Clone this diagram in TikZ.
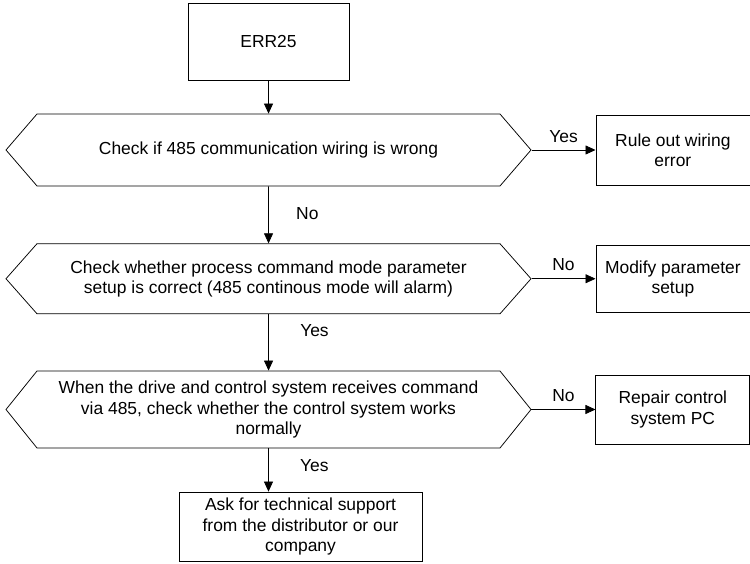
\documentclass[tikz,border=0pt]{standalone}
\usepackage{fontspec}
\setmainfont{Liberation Sans}
\usetikzlibrary{positioning,arrows.meta,shapes.symbols}

\begin{document}
\begin{tikzpicture}[x=1bp,y=1bp,font=\fontsize{17.5}{20.5}\selectfont,node distance=57bp and 64bp,
    line width=0.75bp,>={Triangle[length=10bp,width=9bp]}]
  \tikzstyle{box}=[draw,minimum width=154bp,align=center,inner sep=2pt]
  \tikzstyle{hex}=[draw,signal,signal to=west and east,
    minimum width=525bp,align=center,inner sep=2pt]
  \useasboundingbox (0,0) rectangle (750,564);
  \node[draw,minimum width=161bp,minimum height=77bp] (err) at (268.5,522.5) {ERR25};
  \node[hex,minimum height=72bp,signal pointer angle=98.5] (c1) at (268.5,414) {Check if 485 communication wiring is wrong};
  \node[hex,minimum height=70bp,signal pointer angle=97,below=of c1] (c2) {Check whether process command mode parameter\\setup is correct (485 continous mode will alarm)};
  \node[hex,minimum height=77bp,signal pointer angle=102.3] (c3) at (268.5,154.5) {When the drive and control system receives command\\via 485, check whether the control system works\\normally};
  \node[box,minimum height=70bp,right=of c1] (r1) {Rule out wiring\\error};
  \node[box,minimum height=67bp,right=of c2] (r2) {Modify parameter\\setup};
  \node[box,minimum height=69bp,right=of c3] (r3) {Repair control\\system PC};
  \node[draw,minimum width=243bp,minimum height=69bp,align=center,inner sep=2pt] (ask) at (300.5,37.5) {Ask for technical support\\from the distributor or our\\company};
  \draw[->] (err) -- (c1);
  \draw[->] (c1.east) -- (c1.east -| r1.west) node[midway,above=4bp] {Yes};
  \draw[->] (c1) -- (c2) node[pos=0.47,right=24bp] {No};
  \draw[->] (c2.east) -- (c2.east -| r2.west) node[midway,above=4bp] {No};
  \draw[->] (c2) -- (c3) node[pos=0.29,right=28bp] {Yes};
  \draw[->] (c3.east) -- (c3.east -| r3.west) node[midway,above=4bp] {No};
  \draw[->] (c3.south) -- (c3.south |- ask.north) node[pos=0.39,right=28bp] {Yes};
\end{tikzpicture}
\end{document}
